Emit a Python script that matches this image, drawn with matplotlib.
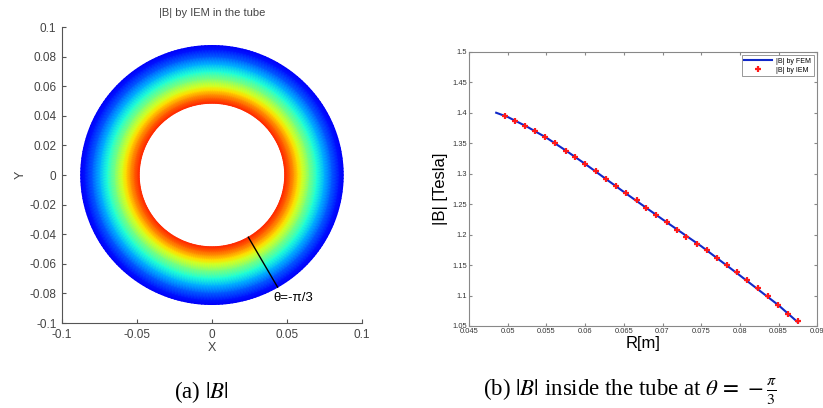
import numpy as np
import matplotlib
matplotlib.use("Agg")
import matplotlib.pyplot as plt
from matplotlib.colors import PowerNorm

plt.rcParams['font.family'] = ['Liberation Sans', 'DejaVu Sans']
plt.rcParams['mathtext.fontset'] = 'stix'

# |B| along the radius at theta = -pi/3, FEM curve
r_fem = [0.0485, 0.050, 0.0525, 0.055, 0.0575, 0.060, 0.065, 0.070, 0.075, 0.080, 0.085, 0.0875]
b_fem = [1.400, 1.393, 1.377, 1.359, 1.338, 1.316, 1.270, 1.225, 1.181, 1.133, 1.084, 1.056]

# IEM points
r_iem = [0.0497, 0.05095, 0.05224, 0.05358, 0.05487, 0.05616, 0.05746, 0.05875, 0.06004, 0.06138,
         0.06272, 0.06401, 0.0653, 0.06664, 0.06789, 0.06922, 0.07052, 0.07181, 0.0731, 0.07444,
         0.07569, 0.07703, 0.07832, 0.07966, 0.08095, 0.08228, 0.08358, 0.08491, 0.0862, 0.08746]
b_iem = [1.395, 1.387, 1.379, 1.370, 1.360, 1.350, 1.338, 1.327, 1.316, 1.304,
         1.292, 1.280, 1.268, 1.256, 1.244, 1.232, 1.220, 1.207, 1.196, 1.185,
         1.174, 1.162, 1.150, 1.138, 1.125, 1.112, 1.099, 1.085, 1.070, 1.058]

cut_angle = -np.pi / 3
tick_col = '#444444'

fig = plt.figure(figsize=(8.23, 4.08), dpi=100)

# ---- (a) ring coloured by |B|
ax1 = fig.add_axes([0.0753, 0.2083, 0.3645, 0.7255])
theta = np.linspace(0, 2 * np.pi, 241)
R, T = np.meshgrid(np.array(r_fem), theta)
C = np.tile(np.array(b_fem), (len(theta), 1))
ax1.pcolormesh(R * np.cos(T), R * np.sin(T), C, cmap='jet', shading='gouraud',
               norm=PowerNorm(gamma=2, vmin=0.87, vmax=1.44))
ax1.plot([r_fem[0] * np.cos(cut_angle), r_fem[-1] * np.cos(cut_angle)],
         [r_fem[0] * np.sin(cut_angle), r_fem[-1] * np.sin(cut_angle)], color='black', lw=1)
ax1.text(0.041, -0.083, r'θ=-π/3', fontsize=9.5, va='center', ha='left')

ax1.set_xlim(-0.1, 0.1)
ax1.set_ylim(-0.1, 0.1)
ax1.set_xticks([-0.1, -0.05, 0, 0.05, 0.1])
ax1.set_xticklabels(['-0.1', '-0.05', '0', '0.05', '0.1'])
yt = np.round(np.arange(-0.1, 0.1001, 0.02), 2)
ax1.set_yticks(yt)
ax1.set_yticklabels(['%g' % v for v in yt])
for s in ['top', 'right']:
    ax1.spines[s].set_visible(False)
for s in ['left', 'bottom']:
    ax1.spines[s].set_color('#555555')
ax1.tick_params(direction='in', length=3, labelsize=8.5, colors='#555555',
                labelcolor=tick_col, pad=4)
ax1.set_xlabel('X', fontsize=9, color=tick_col, labelpad=1)
ax1.set_ylabel('Y', fontsize=9, color=tick_col, labelpad=2)
ax1.set_title('|B| by IEM in the tube', fontsize=8, color=tick_col, pad=8)

# ---- (b) |B| along the cut
ax2 = fig.add_axes([0.570, 0.201, 0.423, 0.672])
ax2.plot(r_fem, b_fem, color='#1028c8', lw=1.5, label='|B| by FEM')
ax2.plot(r_iem, b_iem, ls='none', marker='+', color='#ff1a1a', ms=4, mew=1.6, label='|B| by IEM')
ax2.set_xlim(0.045, 0.09)
ax2.set_ylim(1.05, 1.5)
xt = np.round(np.arange(0.045, 0.0901, 0.005), 3)
ax2.set_xticks(xt)
ax2.set_xticklabels(['%g' % v for v in xt])
yt2 = np.round(np.arange(1.05, 1.5001, 0.05), 2)
ax2.set_yticks(yt2)
ax2.set_yticklabels(['%g' % v for v in yt2])
for s in ax2.spines.values():
    s.set_color('#888888')
ax2.tick_params(direction='in', length=2.5, labelsize=5.4, colors='#888888',
                labelcolor='#333333', pad=1.5, top=True, right=True)
ax2.set_xlabel('R[m]', fontsize=12, labelpad=1)
ax2.set_ylabel('|B| [Tesla]', fontsize=12, labelpad=3)
leg = ax2.legend(loc='upper right', fontsize=5, handlelength=4, numpoints=1,
                 borderaxespad=0.5, fancybox=False, framealpha=1,
                 borderpad=0.35, labelspacing=0.3, handletextpad=0.6)
leg.get_frame().set_edgecolor('#888888')
leg.get_frame().set_linewidth(0.6)

# captions
fig.text(0.245, 0.039, r'(a) $|B|$', fontsize=16.5, family='Liberation Serif',
         ha='center', va='center')
fig.text(0.766, 0.039, r'(b) $|B|$ inside the tube at $\theta\,=\,-\frac{\pi}{3}$',
         fontsize=16.5, family='Liberation Serif', ha='center', va='center')

fig.savefig('out.png', dpi=100)
